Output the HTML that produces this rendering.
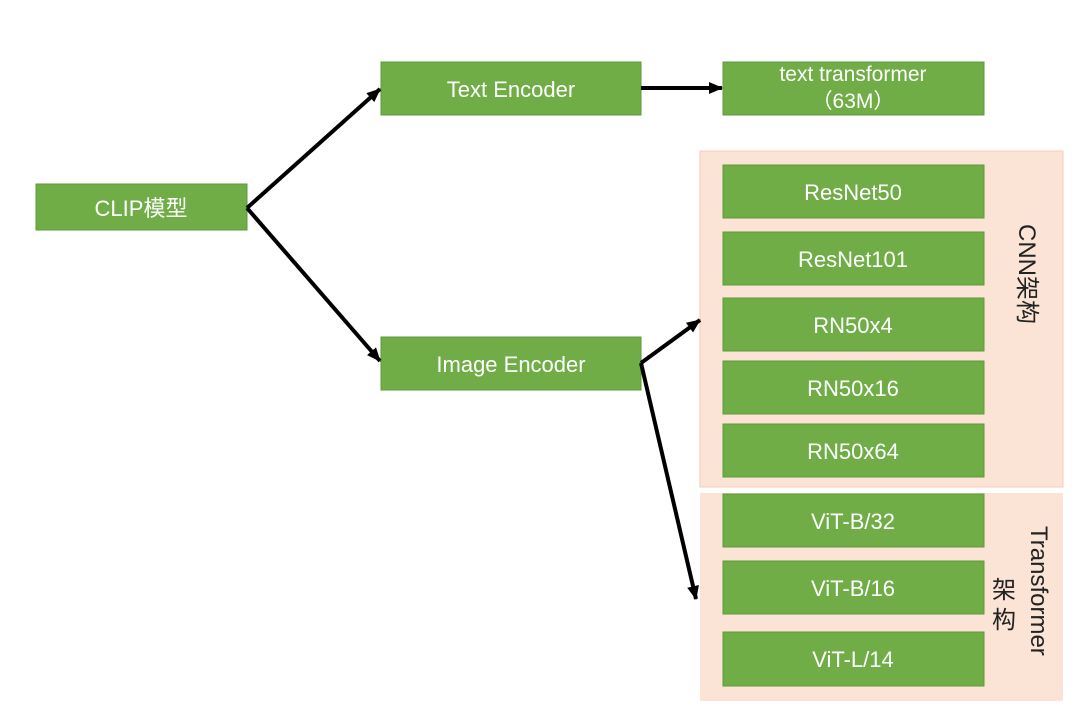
<!DOCTYPE html>
<html><head><meta charset="utf-8"><style>
html,body{margin:0;padding:0;background:#fff;}
svg{display:block;}
text{font-family:"Liberation Sans","Noto Sans CJK SC",sans-serif;}
</style></head><body>
<svg width="1080" height="710" viewBox="0 0 1080 710" xmlns="http://www.w3.org/2000/svg">
<defs>
<marker id="ah" markerWidth="8" markerHeight="8" refX="6" refY="4" orient="auto" markerUnits="userSpaceOnUse"><path d="M0,0 L8,4 L0,8 z" fill="#000"/></marker>
<marker id="ah2" markerWidth="14" markerHeight="12" refX="13" refY="6" orient="auto" markerUnits="userSpaceOnUse"><path d="M0,0 L14,6 L0,12 z" fill="#000"/></marker>
</defs>
<rect x="700" y="151" width="363" height="336" fill="#fbe4d6" stroke="#f5cdb5" stroke-width="1"/>
<rect x="700" y="493" width="363" height="208" fill="#fbe4d6"/>
<g fill="#70ad47" stroke="#5e9a3a" stroke-width="1">
<rect x="36" y="184" width="211" height="46"/>
<rect x="381" y="62" width="260" height="53"/>
<rect x="381" y="337" width="260" height="53"/>
<rect x="723" y="62" width="261" height="53"/>
<rect x="723" y="165" width="261" height="53"/>
<rect x="723" y="232" width="261" height="53"/>
<rect x="723" y="298" width="261" height="53"/>
<rect x="723" y="361" width="261" height="53"/>
<rect x="723" y="424" width="261" height="53"/>
<rect x="723" y="494" width="261" height="53"/>
<rect x="723" y="561" width="261" height="53"/>
<rect x="723" y="632" width="261" height="54"/>
</g>
<g fill="#fff" font-size="22" text-anchor="middle">
<text x="141" y="216">CLIP模型</text>
<text x="511" y="97">Text Encoder</text>
<text x="511" y="372">Image Encoder</text>
<text x="853" y="81" font-size="21">text transformer</text>
<text x="853" y="108" font-size="21">（63M）</text>
<text x="853" y="200">ResNet50</text>
<text x="853" y="267">ResNet101</text>
<text x="853" y="333">RN50x4</text>
<text x="853" y="396">RN50x16</text>
<text x="853" y="459">RN50x64</text>
<text x="853" y="529">ViT-B/32</text>
<text x="853" y="596">ViT-B/16</text>
<text x="853" y="667">ViT-L/14</text>
</g>
<g fill="#222" font-size="24">
<text transform="translate(1019,224) rotate(90)">CNN架构</text>
<text transform="translate(1031,526) rotate(90)">Transformer</text>
<text x="992" y="598">架</text>
<text x="992" y="628">构</text>
</g>
<g stroke="#000" stroke-width="4" fill="none">
<line x1="247" y1="208" x2="380" y2="89" marker-end="url(#ah2)"/>
<line x1="247" y1="208" x2="380" y2="361" marker-end="url(#ah2)"/>
<line x1="641" y1="88" x2="722" y2="88" marker-end="url(#ah2)"/>
<line x1="641" y1="363" x2="700" y2="320" marker-end="url(#ah2)"/>
<line x1="641" y1="363" x2="696" y2="599" marker-end="url(#ah2)"/>
</g>
</svg>
</body></html>
